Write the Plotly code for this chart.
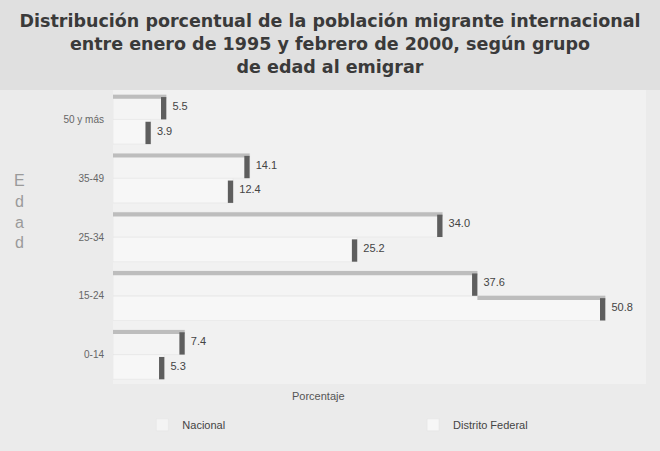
import plotly.graph_objects as go

# Data (bottom to top order as drawn on numeric axis)
age_groups = ["0-14", "15-24", "25-34", "35-49", "50 y más"]
nacional = [7.4, 37.6, 34.0, 14.1, 5.5]
distrito_federal = [5.3, 50.8, 25.2, 12.4, 3.9]
series_names = ["Nacional", "Distrito Federal"]

idx = list(range(len(age_groups)))
bar_w = 0.42
off = 0.21
cap_w = 0.55
strip_h = 0.07

fig = go.Figure()

def add_series(values, name, ypos, fill, legend_id, hidden_by=None):
    # main body
    fig.add_trace(go.Bar(
        x=values, y=ypos, orientation="h", width=bar_w, name=name,
        marker=dict(color=fill, line=dict(color="#e2e2e2", width=0.5)),
        showlegend=True, legend=legend_id, hoverinfo="skip"))
    # top edge strip (3D look); part hidden behind the bar above is not drawn
    if hidden_by is None:
        strip_base = [0] * len(values)
    else:
        strip_base = [min(h, v) for h, v in zip(hidden_by, values)]
    fig.add_trace(go.Bar(
        x=[v - b for v, b in zip(values, strip_base)], base=strip_base,
        y=[p + bar_w / 2 - strip_h / 2 for p in ypos], orientation="h",
        width=strip_h, marker=dict(color="#bdbdbd", line=dict(width=0)),
        showlegend=False, hoverinfo="skip"))
    # dark end face
    fig.add_trace(go.Bar(
        x=[cap_w] * len(values), base=[v - cap_w for v in values],
        y=[p - 0.02 for p in ypos], orientation="h", width=bar_w - 0.04,
        marker=dict(color="#5e5e5e", line=dict(width=0)),
        showlegend=False, hoverinfo="skip"))
    # value labels
    fig.add_trace(go.Scatter(
        x=values, y=ypos, mode="text",
        text=[f"  {v:.1f}" for v in values], textposition="middle right",
        textfont=dict(family="Liberation Sans, Arial", size=11, color="#444"),
        showlegend=False, hoverinfo="skip"))

add_series(distrito_federal, series_names[1], [i - off for i in idx], "#f7f7f7", "legend2",
           hidden_by=nacional)
add_series(nacional, series_names[0], [i + off for i in idx], "#f4f4f4", "legend")

legend_font = dict(family="Liberation Sans, Arial", size=11, color="#444")

fig.update_layout(
    width=660, height=451,
    margin=dict(l=113, r=14, t=90, b=58),
    paper_bgcolor="#ebebeb",
    plot_bgcolor="#f1f1f1",
    barmode="overlay",
    title=dict(
        text="Distribución porcentual de la población migrante internacional<br>"
             "entre enero de 1995 y febrero de 2000, según grupo<br>"
             "de edad al emigrar",
        x=0.5, xanchor="center", yref="container", y=0.94, yanchor="middle",
        font=dict(family="DejaVu Sans, Arial", size=17.5, color="#3a3a3a", weight="bold")),
    xaxis=dict(range=[0, 55], showgrid=False, zeroline=False, showticklabels=False,
               ticks="", showline=False),
    yaxis=dict(range=[-0.5, 4.5], tickvals=idx, ticktext=age_groups,
               showgrid=False, zeroline=False, ticks="", showline=False,
               ticklabelstandoff=8,
               tickfont=dict(family="Liberation Sans, Arial", size=10, color="#666")),
    legend=dict(orientation="h", x=0.055, xanchor="left", y=-0.139, yanchor="middle",
                bgcolor="rgba(0,0,0,0)", font=legend_font),
    legend2=dict(orientation="h", x=0.563, xanchor="left", y=-0.139, yanchor="middle",
                 bgcolor="rgba(0,0,0,0)", font=legend_font),
    showlegend=True,
    shapes=[dict(type="rect", xref="paper", yref="paper", x0=-0.3, x1=1.1,
                 y0=1.0, y1=1.32, fillcolor="#e0e0e0", line=dict(width=0), layer="below")],
    annotations=[
        dict(text="Porcentaje", xref="paper", yref="paper", x=0.385, y=0,
             yshift=-12, showarrow=False, xanchor="center", yanchor="middle",
             font=dict(family="Liberation Sans, Arial", size=11, color="#555")),
        dict(text="E<br>d<br>a<br>d", xref="paper", yref="paper", x=-0.175, y=0.587,
             showarrow=False, xanchor="center", yanchor="middle",
             font=dict(family="Liberation Sans, Arial", size=16, color="#9a9a9a")),
    ],
)

fig.write_html("out.html", config={"displayModeBar": False},
               post_script="document.body.style.margin='0';document.body.style.overflow='hidden';")
